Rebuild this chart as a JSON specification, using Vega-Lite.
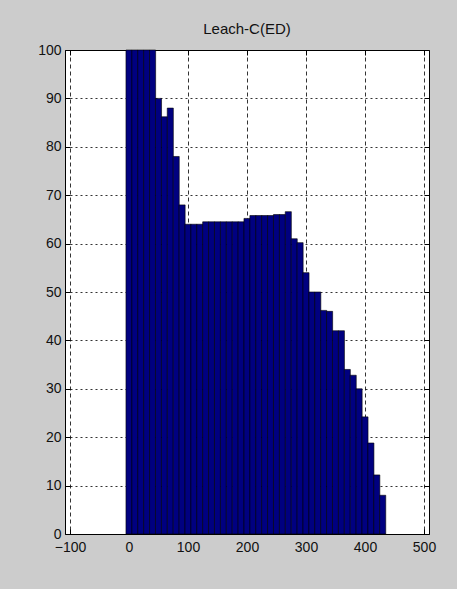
{
  "$schema": "https://vega.github.io/schema/vega-lite/v6.json",
  "autosize": {"type": "none"},
  "width": 364,
  "height": 484,
  "padding": {"left": 65, "top": 50, "right": 28, "bottom": 55},
  "background": "#cccccc",
  "title": {
    "text": "Leach-C(ED)",
    "font": "'Liberation Sans Narrow', 'Liberation Sans', Arial, sans-serif",
    "fontSize": 15,
    "fontWeight": "normal",
    "color": "#111111",
    "anchor": "middle",
    "baseline": "alphabetic",
    "offset": -6
  },
  "config": {
    "view": {"stroke": "#000000", "strokeWidth": 1, "fill": "#ffffff"},
    "axis": {
      "labelFont": "'Liberation Sans Narrow', 'Liberation Sans', Arial, sans-serif",
      "labelFontSize": 14,
      "labelColor": "#111111",
      "domain": false,
      "tickColor": "#000000",
      "tickSize": -5,
      "title": null
    }
  },
  "data": {
    "values": [
      {"round": 0, "value": 100}, {"round": 10, "value": 100}, {"round": 20, "value": 100},
      {"round": 30, "value": 100}, {"round": 40, "value": 100}, {"round": 50, "value": 90},
      {"round": 60, "value": 86.2}, {"round": 70, "value": 88}, {"round": 80, "value": 78},
      {"round": 90, "value": 68}, {"round": 100, "value": 64}, {"round": 110, "value": 64},
      {"round": 120, "value": 64}, {"round": 130, "value": 64.5}, {"round": 140, "value": 64.5},
      {"round": 150, "value": 64.5}, {"round": 160, "value": 64.5}, {"round": 170, "value": 64.5},
      {"round": 180, "value": 64.5}, {"round": 190, "value": 64.5}, {"round": 200, "value": 65.2},
      {"round": 210, "value": 65.8}, {"round": 220, "value": 65.8}, {"round": 230, "value": 65.8},
      {"round": 240, "value": 65.8}, {"round": 250, "value": 66}, {"round": 260, "value": 66},
      {"round": 270, "value": 66.6}, {"round": 280, "value": 61}, {"round": 290, "value": 60.2},
      {"round": 300, "value": 54}, {"round": 310, "value": 50}, {"round": 320, "value": 50},
      {"round": 330, "value": 46.2}, {"round": 340, "value": 46}, {"round": 350, "value": 42},
      {"round": 360, "value": 42}, {"round": 370, "value": 34}, {"round": 380, "value": 32.8},
      {"round": 390, "value": 30}, {"round": 400, "value": 24.2}, {"round": 410, "value": 18.8},
      {"round": 420, "value": 12.2}, {"round": 430, "value": 8}
    ]
  },
  "resolve": {"axis": {"x": "independent", "y": "independent"}},
  "layer": [
    {
      "mark": {"type": "bar", "size": 6.07, "fill": "#000080", "stroke": "#000000", "strokeWidth": 0.6},
      "encoding": {
        "x": {
          "field": "round", "type": "quantitative",
          "scale": {"domain": [-100, 500], "nice": false, "zero": false},
          "axis": {
            "orient": "bottom", "values": [-100, 0, 100, 200, 300, 400, 500],
            "labelPadding": 11, "labelFlush": false, "labelOverlap": false,
            "grid": true, "gridColor": "#000000", "gridOpacity": 0.8, "gridDash": [4, 3], "gridWidth": 1
          }
        },
        "y": {
          "field": "value", "type": "quantitative",
          "scale": {"domain": [0, 100], "nice": false},
          "axis": {
            "orient": "left", "values": [0, 10, 20, 30, 40, 50, 60, 70, 80, 90, 100],
            "labelPadding": 9, "labelFlush": false, "labelOverlap": false,
            "grid": true, "gridColor": "#000000", "gridOpacity": 0.8, "gridDash": [2, 3], "gridWidth": 1
          }
        }
      }
    },
    {
      "mark": {"type": "point", "opacity": 0},
      "encoding": {
        "x": {
          "field": "round", "type": "quantitative",
          "axis": {"orient": "top", "values": [-100, 0, 100, 200, 300, 400, 500], "labels": false, "grid": false}
        },
        "y": {
          "field": "value", "type": "quantitative",
          "axis": {"orient": "right", "values": [0, 10, 20, 30, 40, 50, 60, 70, 80, 90, 100], "labels": false, "grid": false}
        }
      }
    }
  ]
}
